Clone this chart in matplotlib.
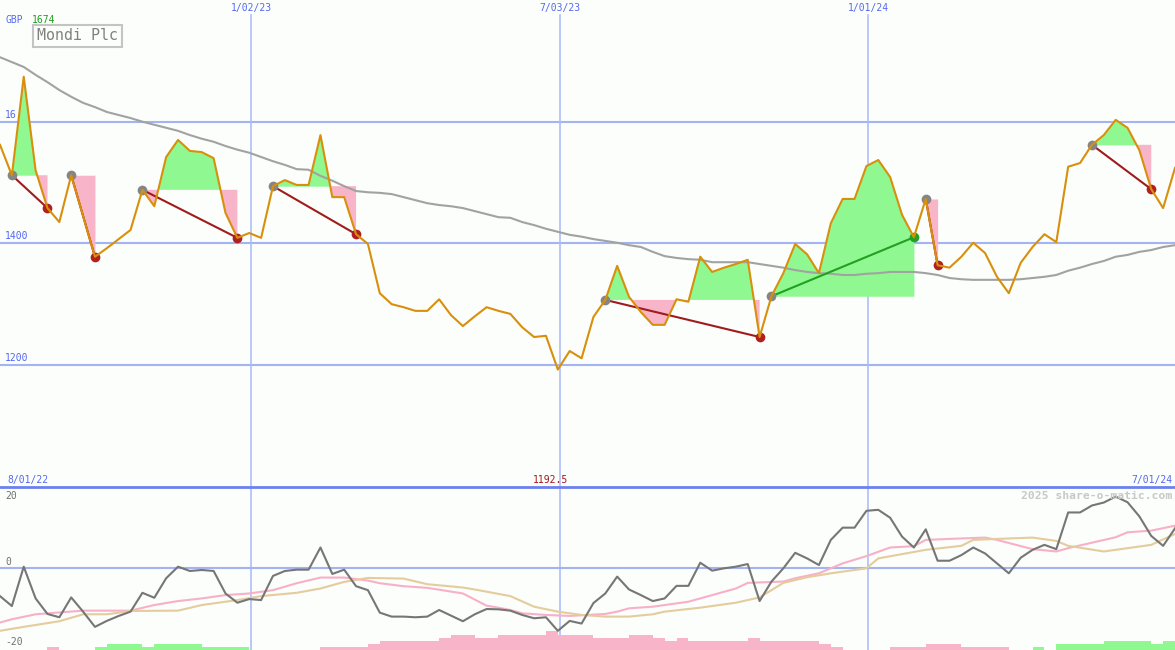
import numpy as np
import pandas as pd
import matplotlib
matplotlib.use('Agg')
import matplotlib.pyplot as plt
import matplotlib.dates as mdates

# weekly closes, Aug 2022 - Jun 2024 (GBP pence)
weeks = pd.date_range('2022-08-07', periods=100, freq='7D')
price = [1562, 1512, 1674, 1520, 1458, 1435, 1512, 1445, 1378, 1392,
         1407, 1422, 1488, 1461, 1542, 1570, 1552, 1550, 1540, 1450,
         1409, 1417, 1409, 1494, 1504, 1496, 1496, 1578, 1476, 1476,
         1415, 1399, 1318, 1300, 1295, 1289, 1289, 1308, 1282, 1264,
         1280, 1295, 1289, 1284, 1262, 1246, 1248, 1192.5, 1223, 1211,
         1279, 1307, 1363, 1312, 1287, 1266, 1266, 1308, 1304, 1378,
         1353, 1360, 1366, 1373, 1246, 1313, 1351, 1399, 1382, 1351,
         1433, 1473, 1473, 1527, 1537, 1509, 1447, 1410, 1473, 1364,
         1360, 1378, 1401, 1384, 1345, 1318, 1368, 1394, 1415, 1402,
         1526, 1532, 1562, 1578, 1603, 1590, 1553, 1489, 1458, 1524]
# long moving average (grey)
ma = [1706, 1698, 1690, 1677, 1665, 1652, 1641, 1631, 1624, 1616,
      1611, 1606, 1600, 1595, 1590, 1585, 1578, 1572, 1567, 1560,
      1554, 1549, 1542, 1535, 1529, 1522, 1521, 1511, 1503, 1494,
      1486, 1484, 1483, 1481, 1476, 1471, 1466, 1463, 1461, 1458,
      1453, 1448, 1443, 1442, 1435, 1430, 1424, 1419, 1414, 1411,
      1407, 1404, 1401, 1397, 1394, 1386, 1379, 1376, 1374, 1373,
      1369, 1369, 1369, 1369, 1366, 1363, 1360, 1356, 1353, 1351,
      1350, 1348, 1348, 1350, 1351, 1353, 1353, 1353, 1351, 1348,
      1343, 1341, 1340, 1340, 1340, 1340, 1341, 1343, 1345, 1348,
      1355, 1360, 1366, 1371, 1378, 1381, 1386, 1389, 1394, 1397]

# pattern segments (start week, end week)
seg_start = [1, 6, 12, 23, 51, 65, 78, 92]
seg_end = [4, 8, 20, 30, 64, 77, 79, 97]

# lower panel
momentum = [-8.5, -11.5, 0.4, -9.2, -13.9, -14.9, -8.9, -13.2, -17.8, -16.0,
            -14.5, -13.2, -7.5, -9.0, -3.1, 0.4, -0.9, -0.6, -0.9, -7.7,
            -10.5, -9.4, -9.7, -2.4, -0.9, -0.5, -0.5, 6.2, -1.8, -0.5,
            -5.5, -6.7, -13.5, -14.7, -14.7, -14.9, -14.7, -12.7, -14.4, -16.1,
            -14.0, -12.4, -12.5, -12.9, -14.2, -15.2, -14.9, -19.0, -16.0, -16.8,
            -10.6, -7.7, -2.6, -6.5, -8.2, -10.0, -9.2, -5.4, -5.4, 1.6,
            -0.8, -0.1, 0.4, 1.2, -10.0, -4.1, -0.1, 4.6, 2.9, 0.9,
            8.5, 12.2, 12.2, 17.3, 17.6, 15.2, 9.5, 6.2, 11.7, 2.2,
            2.2, 3.9, 6.2, 4.4, 1.4, -1.6, 3.1, 5.5, 7.0, 5.7,
            16.8, 16.8, 18.9, 19.8, 21.6, 19.9, 15.6, 9.7, 6.7, 12.0]
pink_k = [0, 1, 3, 7, 11, 13, 15, 17, 19, 21, 23, 25, 27, 29, 31, 32, 34, 36, 39, 41,
          42, 43, 44, 46, 48, 49, 51, 52, 53, 55, 58, 60, 62, 63, 66, 67, 69, 71, 73, 75,
          77, 78, 80, 83, 84, 87, 89, 90, 94, 95, 97, 99]
pink_v = [-16.5, -15.5, -14.0, -12.9, -12.9, -11.2, -10.0, -9.2, -8.2, -7.7,
          -6.7, -4.6, -2.9, -2.9, -3.8, -4.6, -5.5, -6.0, -7.7, -11.4,
          -12.0, -12.7, -13.7, -14.2, -14.5, -14.3, -13.9, -13.2, -12.2, -11.7,
          -10.2, -8.2, -6.2, -4.5, -4.1, -3.1, -1.6, 1.4, 3.6, 6.2,
          6.6, 8.5, 8.8, 9.2, 8.5, 5.7, 5.0, 6.0, 9.3, 10.8, 11.3, 12.8]
tan_k = [0, 2, 5, 7, 9, 11, 15, 17, 20, 22, 25, 27, 29, 31, 34, 36, 39, 40, 43, 45,
         47, 49, 51, 53, 55, 56, 59, 62, 64, 66, 68, 70, 73, 74, 78, 80, 81, 82, 84, 87,
         89, 90, 93, 95, 97, 99]
tan_v = [-19.0, -17.8, -16.1, -14.0, -14.0, -13.0, -12.9, -11.2, -9.7, -8.5,
         -7.5, -6.2, -4.2, -3.0, -3.2, -4.9, -5.9, -6.5, -8.5, -11.7,
         -13.2, -14.2, -14.7, -14.7, -14.0, -13.2, -12.0, -10.5, -8.9, -4.5,
         -2.8, -1.6, -0.1, 2.9, 5.5, 6.3, 6.7, 8.5, 8.8, 9.2,
         8.2, 6.7, 5.0, 6.0, 7.0, 10.3]
bars = [0, 0, 0, 0, -0.8, 0, 0, 0, 0.8, 1.8,
        1.8, 1.8, 0.8, 1.8, 1.8, 1.8, 1.8, 0.8, 0.8, 0.8,
        0.8, 0, 0, 0, 0, 0, 0, -0.8, -0.8, -0.8,
        -0.8, -1.8, -2.7, -2.7, -2.7, -2.7, -2.7, -3.5, -4.5, -4.5,
        -3.5, -3.5, -4.5, -4.5, -4.5, -4.5, -5.8, -4.5, -4.5, -4.5,
        -3.5, -3.5, -3.5, -4.5, -4.5, -3.5, -2.7, -3.5, -2.7, -2.7,
        -2.7, -2.7, -2.7, -3.5, -2.7, -2.7, -2.7, -2.7, -2.7, -1.8,
        -0.8, 0, 0, 0, 0, -0.8, -0.8, -0.8, -1.8, -1.8,
        -1.8, -0.8, -0.8, -0.8, -0.8, 0, 0, 0.8, 0, 1.8,
        1.8, 1.8, 1.8, 2.7, 2.7, 2.7, 2.7, 1.8, 2.7, 2.7]

grid_dates = ['2023-01-02', '2023-07-03', '2024-01-01']
grid_labels = ['1/02/23', '7/03/23', '1/01/24']
price_ticks = [1600, 1400, 1200]
price_tick_labels = ['16', '1400', '1200']

bg = '#fbfefb'
blue_txt = '#5468f0'
hgrid = '#a4b4f2'
vgrid = '#aab8f6'
green_fill = '#90f890'
pink_fill = '#f8b4c8'
mono = 'DejaVu Sans Mono'

x = mdates.date2num(weeks)
price_a = np.array(price)

fig = plt.figure(figsize=(11.75, 6.5), dpi=100)
fig.patch.set_facecolor(bg)
ax = fig.add_axes([0, 163 / 650, 1, 487 / 650])
axb = fig.add_axes([0, 0, 1, 163 / 650])
for a in (ax, axb):
    a.set_axis_off()
    a.set_xlim(x[0], x[-1])
ax.set_ylim(999.4, 1800.1)
axb.set_ylim(-24.8, 24.5)

# grid
for p, lbl in zip(price_ticks, price_tick_labels):
    ax.axhline(p, color=hgrid, lw=1.5, zorder=0)
    ax.annotate(lbl, (5 / 1175, p), xycoords=ax.get_yaxis_transform(), xytext=(0, 1.5),
                textcoords='offset points', color=blue_txt, fontsize=7, family=mono, va='bottom')
for d, lbl in zip(grid_dates, grid_labels):
    dx = mdates.date2num(pd.Timestamp(d))
    ax.axvline(dx, ymin=0, ymax=1 - 15 / 487, color=vgrid, lw=1.1, zorder=0)
    axb.axvline(dx, color=vgrid, lw=1.1, zorder=0)
    ax.text(dx, 1 - 8 / 487, lbl, transform=ax.get_xaxis_transform(), ha='center', va='center',
            color=blue_txt, fontsize=7, family=mono)
axb.axhline(0, color=hgrid, lw=1.5, zorder=0)
fig.add_artist(plt.Line2D([0, 1], [163 / 650, 163 / 650], transform=fig.transFigure,
                          color='#6c80ee', lw=2))

# pattern segments
for s, e in zip(seg_start, seg_end):
    xs = x[s:e + 1]
    ys = price_a[s:e + 1]
    lvl = price[s]
    ax.fill_between(xs, ys, lvl, where=ys >= lvl, interpolate=True, color=green_fill, lw=0, zorder=1)
    ax.fill_between(xs, ys, lvl, where=ys <= lvl, interpolate=True, color=pink_fill, lw=0, zorder=1)
    up = price[e] > lvl
    ax.plot([x[s], x[e]], [lvl, price[e]], color='#22a022' if up else '#a01c1c', lw=1.5, zorder=3)
    ax.plot(x[s], lvl, 'o', color='#858585', ms=7, mew=0, zorder=3)
    ax.plot(x[e], price[e], 'o', color='#22a022' if up else '#b02020', ms=7, mew=0, zorder=3)

ax.plot(x, ma, color='#a2a2a2', lw=1.5, zorder=2)
ax.plot(x, price, color='#d8900c', lw=1.5, zorder=4)

# labels on top panel
fig.text(5 / 1175, 1 - 20 / 650, 'GBP', color=blue_txt, fontsize=7, family=mono, va='center')
fig.text(32 / 1175, 1 - 20 / 650, f'{max(price):g}', color='#20a020', fontsize=7, family=mono, va='center')
fig.text(37 / 1175, 1 - 36 / 650, 'Mondi Plc', color='#808080', fontsize=10.8, family=mono, va='center',
         bbox=dict(boxstyle='square,pad=0.25', fc=bg, ec='#c4c4c4', lw=1.5))
fig.text(7 / 1175, 1 - 480 / 650, '8/01/22', color=blue_txt, fontsize=7, family=mono, va='center')
fig.text(1172 / 1175, 1 - 480 / 650, '7/01/24', color=blue_txt, fontsize=7, family=mono, va='center', ha='right')
imin = int(np.argmin(price_a))
ax.annotate(f'{price[imin]:g}', (x[imin], 1 - 480 / 487), xycoords=ax.get_xaxis_transform(),
            xytext=(-5, 0), textcoords='offset points', ha='center', va='center',
            color='#a01818', fontsize=7, family=mono)

# lower panel
colors = [green_fill if v > 0 else pink_fill for v in bars]
axb.bar(x, np.abs(bars), width=7, bottom=-24.8, align='edge', color=colors, lw=0, zorder=1)
axb.plot(x[pink_k], pink_v, color='#f8b0c8', lw=1.5, zorder=3)
axb.plot(x[tan_k], tan_v, color='#e4cc9c', lw=1.5, zorder=3)
axb.plot(x, momentum, color='#767676', lw=1.5, zorder=4)

for lbl, py in [('20', 496), ('0', 562), ('-20', 642)]:
    fig.text(5 / 1175, 1 - py / 650, lbl, color='#707070', fontsize=7, family=mono, va='center')
fig.text(1172 / 1175, 1 - 496 / 650, '2025 share-o-matic.com', color='#c8c8c8', fontsize=8.2,
         family=mono, fontweight='bold', va='center', ha='right')

fig.savefig('out.png', dpi=100, facecolor=bg)
